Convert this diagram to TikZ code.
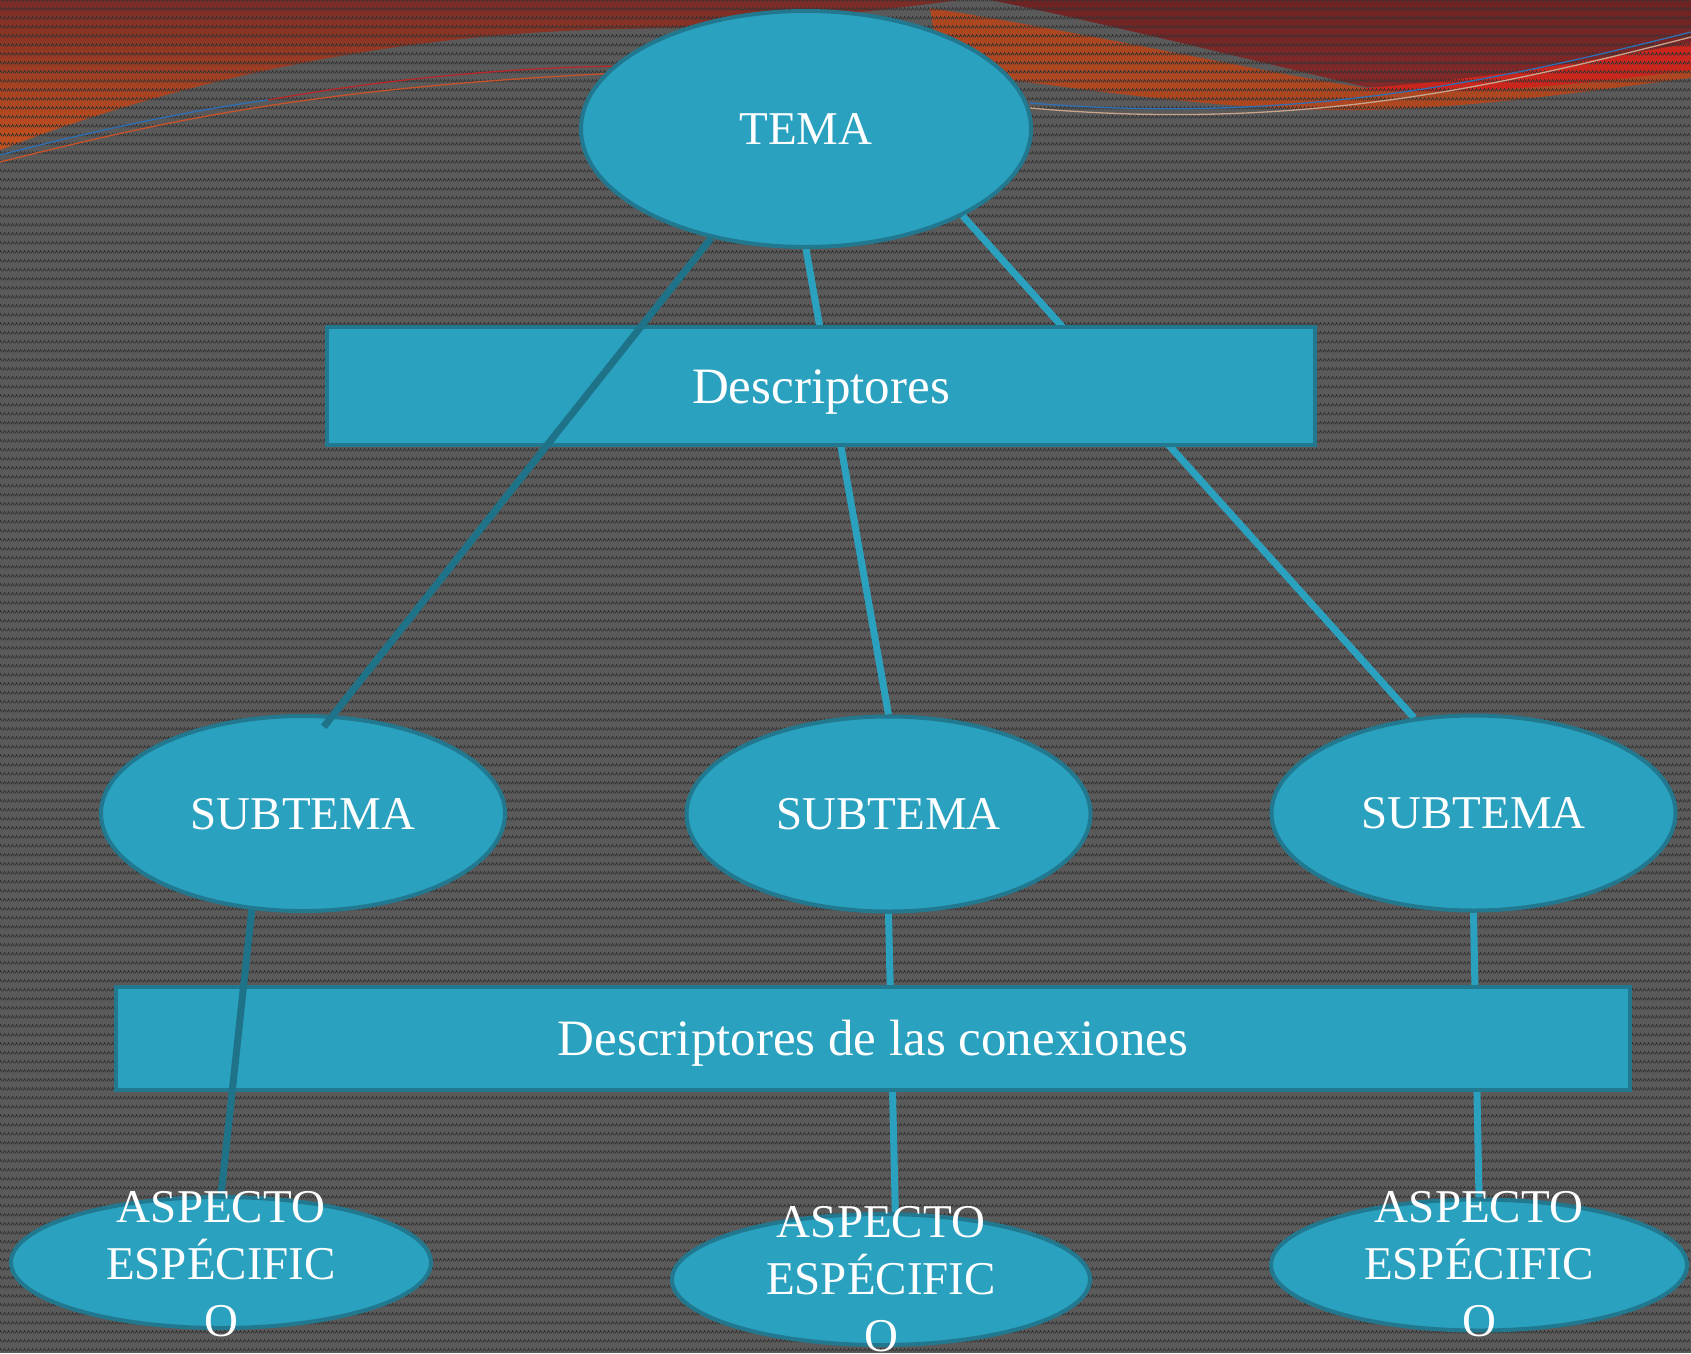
\documentclass[tikz,border=0pt]{standalone}
\usepackage{fontspec}
\setmainfont{Liberation Serif}
\usetikzlibrary{shapes.geometric,patterns,calc}
\definecolor{nodefill}{HTML}{2BA1C0}
\definecolor{nodeedge}{HTML}{21788F}
\definecolor{darkline}{HTML}{1E7389}
\definecolor{bggray}{HTML}{5A5A5A}
\definecolor{zzgray}{HTML}{333333}
\definecolor{redtop}{HTML}{7A2C28}
\definecolor{orangebot}{HTML}{C4521F}
\definecolor{darkred}{HTML}{822A2A}
\definecolor{orangeband}{HTML}{AC4722}
\definecolor{brightred}{HTML}{C9261E}
\definecolor{thinblue}{HTML}{2E6FB5}
\definecolor{thincream}{HTML}{C9A48C}
\definecolor{thinred}{HTML}{B8282A}
\definecolor{thinorange}{HTML}{C8532A}
\newcommand\capsfont{\fontsize{47}{57}\selectfont}
\newcommand\lowfont{\fontsize{51}{61}\selectfont}
\pgfdeclarepatternformonly{zigzag}{\pgfqpoint{0pt}{0pt}}{\pgfqpoint{4pt}{9pt}}{\pgfqpoint{4pt}{9pt}}{%
  \pgfsetlinewidth{0.9pt}%
  \pgfpathmoveto{\pgfqpoint{0pt}{3pt}}%
  \pgfpathlineto{\pgfqpoint{2pt}{6pt}}%
  \pgfpathlineto{\pgfqpoint{4pt}{3pt}}%
  \pgfusepath{stroke}}
\pgfdeclarelayer{back}
\pgfdeclarelayer{conn}
\pgfsetlayers{back,conn,main}
\begin{document}
\begin{tikzpicture}[x=1pt,y=-1pt,
  ell/.style={ellipse, draw=nodeedge, line width=4pt, fill=nodefill, inner sep=0pt,
    text=white, font=\capsfont, text height=31pt, text depth=0pt},
  box/.style={rectangle, draw=nodeedge, line width=4pt, fill=nodefill, inner sep=0pt,
    text=white, font=\lowfont, text height=34pt, text depth=0pt},
  lightconn/.style={line width=7pt, nodefill},
  darkconn/.style={line width=7pt, darkline},
  aspectext/.style={anchor=base, align=center, text=white, font=\capsfont, inner sep=0pt}]
\useasboundingbox (0,0) rectangle (1691,1353);

\begin{pgfonlayer}{back}
  \fill[bggray] (0,0) rectangle (1691,1353);
  % left swoosh
  \shade[top color=redtop, bottom color=orangebot]
    (0,0) -- (960,0) .. controls (820,18) and (720,27) .. (625,29)
    .. controls (420,32) and (200,72) .. (0,150) -- cycle;
  % right dark red region
  \shade[top color=darkred!85!black, bottom color=darkred]
    (990,0) -- (1691,0) -- (1691,45) .. controls (1560,70) and (1450,88) .. (1366,87)
    .. controls (1250,60) and (1100,22) .. (990,0) -- cycle;
  % orange band
  \fill[orangeband]
    (930,8) .. controls (1100,35) and (1250,70) .. (1366,88)
    .. controls (1480,95) and (1600,70) .. (1691,55) -- (1691,78)
    .. controls (1560,95) and (1440,112) .. (1330,110)
    .. controls (1200,108) and (1050,85) .. (940,70) -- cycle;
  % bright red band
  \fill[brightred]
    (1366,88) .. controls (1500,78) and (1620,55) .. (1691,43) -- (1691,70)
    .. controls (1600,82) and (1480,96) .. (1366,90) -- cycle;
  % texture
  \fill[pattern=zigzag, pattern color=zzgray] (0,0) rectangle (1691,1353);
  % thin lines
  \draw[thinorange, line width=1.3pt] (0,162) .. controls (150,125) and (300,88) .. (620,73);
  \draw[thinblue, line width=1.3pt] (0,155) .. controls (90,132) and (180,112) .. (268,100);
  \draw[thinred, line width=1.3pt] (268,100) .. controls (380,80) and (500,68) .. (620,66);
  \draw[thinblue, line width=1.3pt] (1030,103) .. controls (1300,125) and (1500,80) .. (1691,32);
  \draw[thincream, line width=1.3pt] (1030,108) .. controls (1300,132) and (1500,86) .. (1691,37);
\end{pgfonlayer}

% nodes
\node[ell, minimum width=450pt, minimum height=236pt] (tema) at (806,129) {TEMA};
\node[box, minimum width=988pt, minimum height=118pt] (desc) at (821,386) {Descriptores};
\node[ell, minimum width=404pt, minimum height=195pt] (sub1) at (303,813.5) {SUBTEMA};
\node[ell, minimum width=404pt, minimum height=195pt] (sub2) at (888.5,814) {SUBTEMA};
\node[ell, minimum width=404pt, minimum height=195pt] (sub3) at (1473.5,813) {SUBTEMA};
\node[box, minimum width=1514pt, minimum height=103pt] (conex) at (873,1038.5) {Descriptores de las conexiones};
\node[ell, minimum width=420pt, minimum height=131pt] (asp1) at (221,1262.5) {};
\node[ell, minimum width=418pt, minimum height=131pt] (asp2) at (881,1279.5) {};
\node[ell, minimum width=416pt, minimum height=131pt] (asp3) at (1479,1265) {};

% connectors behind the boxes
\begin{pgfonlayer}{conn}
  \draw[lightconn] (tema.south) -- (sub2.north);
  \draw[lightconn] (tema.-29) -- (sub3.122);
  \draw[lightconn] (sub2.south) -- (asp2.78);
  \draw[lightconn] (sub3.south) -- (asp3.north);
\end{pgfonlayer}

% connectors drawn over the boxes
\draw[darkconn, shorten >=-15pt] (tema.229) -- (sub1.73);
\draw[darkconn] (sub1.-118) -- (asp1.north);

% texts of the lower ellipses (base = baseline of the last line)
\node[aspectext] (asp1t) at ([yshift=-73.5pt]asp1.center) {ASPECTO\\ESPÉCIFIC\\O};
\node[aspectext] (asp2t) at ([yshift=-71.5pt]asp2.center) {ASPECTO\\ESPÉCIFIC\\O};
\node[aspectext] (asp3t) at ([yshift=-71pt]asp3.center) {ASPECTO\\ESPÉCIFIC\\O};
\end{tikzpicture}
\end{document}
